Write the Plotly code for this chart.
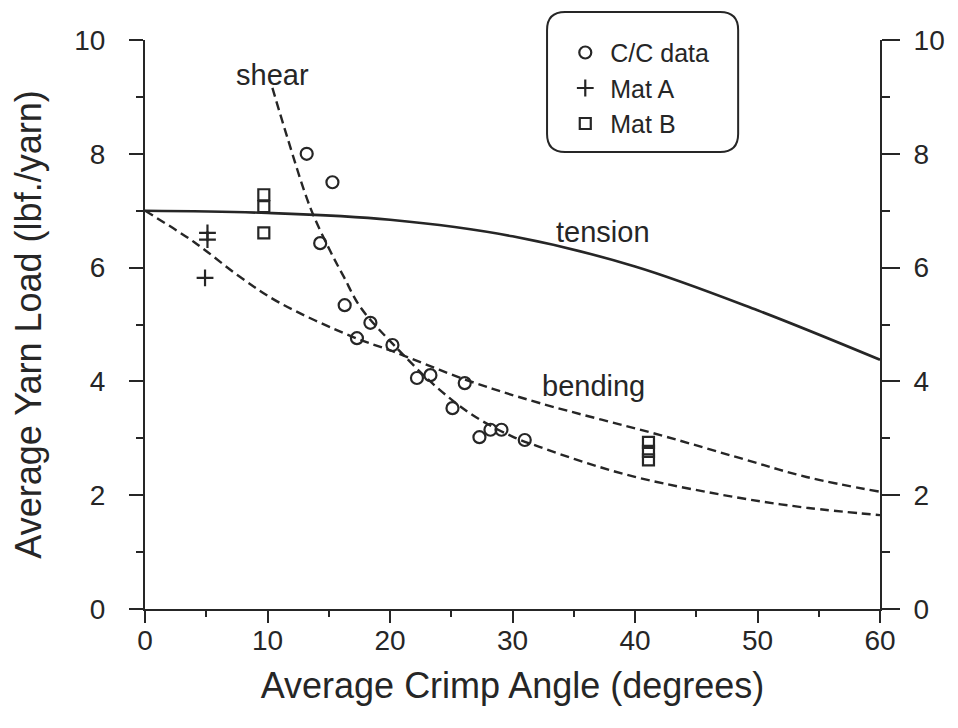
import plotly.graph_objects as go

# ---------------- data ----------------
cc_x = [13.2, 15.3, 14.3, 16.3, 18.4, 17.3, 20.2, 22.2, 23.3, 26.1, 25.1, 27.3, 28.2, 29.1, 31.0]
cc_y = [8.0, 7.5, 6.43, 5.34, 5.03, 4.76, 4.64, 4.06, 4.11, 3.97, 3.53, 3.02, 3.15, 3.15, 2.97]

mat_a_x = [5.1, 5.1, 4.9]
mat_a_y = [6.61, 6.49, 5.82]

mat_b_x = [9.7, 9.7, 9.7, 41.1, 41.1, 41.1]
mat_b_y = [7.28, 7.07, 6.61, 2.93, 2.77, 2.62]

tension_x = [0, 10, 20, 30, 40, 50, 60]
tension_y = [7.0, 6.96, 6.84, 6.55, 6.02, 5.25, 4.38]

bending_x = [0, 4, 7.8, 11.0, 17.0, 20.2, 26.3, 32.2, 42.0, 48.6, 54.0, 60]
bending_y = [7.0, 6.45, 5.83, 5.38, 4.78, 4.53, 4.02, 3.62, 3.06, 2.65, 2.32, 2.06]

shear_x = [10.4, 11.6, 13.5, 15.1, 16.2, 17.6, 20.4, 23.8, 26.8, 30.0, 32.2, 36.0, 40.4, 48.6, 54.0, 60]
shear_y = [9.16, 8.3, 7.05, 6.3, 5.85, 5.3, 4.62, 3.9, 3.4, 3.03, 2.85, 2.57, 2.30, 1.95, 1.78, 1.65]

x_ticks = [0, 10, 20, 30, 40, 50, 60]
y_ticks = [0, 2, 4, 6, 8, 10]

curve_labels = ["shear", "tension", "bending"]
label_x = [10.4, 37.4, 36.6]
label_y = [9.38, 6.62, 3.92]

# ---------------- styling ----------------
INK = "#262626"
FONT = "Liberation Sans, Arial, sans-serif"

fig = go.Figure()

fig.add_trace(go.Scatter(x=tension_x, y=tension_y, mode="lines", line=dict(color=INK, width=2.6, shape="spline"),
                         showlegend=False, hoverinfo="skip"))
fig.add_trace(go.Scatter(x=bending_x, y=bending_y, mode="lines",
                         line=dict(color=INK, width=2.4, dash="9px,5px", shape="spline"),
                         showlegend=False, hoverinfo="skip"))
fig.add_trace(go.Scatter(x=shear_x, y=shear_y, mode="lines",
                         line=dict(color=INK, width=2.4, dash="9px,5px", shape="spline"),
                         showlegend=False, hoverinfo="skip"))

fig.add_trace(go.Scatter(x=cc_x, y=cc_y, mode="markers", name="C/C data",
                         marker=dict(symbol="circle-open", size=12, color=INK, line=dict(width=2.2, color=INK))))
fig.add_trace(go.Scatter(x=mat_a_x, y=mat_a_y, mode="markers", name="Mat A",
                         marker=dict(symbol="cross-thin-open", size=12, color=INK, line=dict(width=2.2, color=INK))))
fig.add_trace(go.Scatter(x=mat_b_x, y=mat_b_y, mode="markers", name="Mat B",
                         marker=dict(symbol="square-open", size=11, color=INK, line=dict(width=2.2, color=INK))))
# anchor trace for the right-hand axis
fig.add_trace(go.Scatter(x=[None], y=[None], yaxis="y2", showlegend=False, hoverinfo="skip"))

axis_common = dict(showgrid=False, zeroline=False, showline=True, linecolor=INK, linewidth=2,
                   ticks="outside", tickcolor=INK, tickwidth=2, automargin=False,
                   tickfont=dict(family=FONT, size=28, color=INK))

fig.update_layout(
    template="none",
    width=950, height=720,
    margin=dict(l=137, r=78, t=32, b=119),
    paper_bgcolor="white", plot_bgcolor="white",
    font=dict(family=FONT, color=INK),
    xaxis=dict(range=[0, 60], tickvals=x_ticks, ticklen=12, ticklabelstandoff=-7,
               minor=dict(dtick=5, ticklen=6, tickwidth=2, tickcolor=INK, ticks="outside"),
               title=dict(text="Average Crimp Angle (degrees)", font=dict(family=FONT, size=36, color=INK), standoff=18),
               **axis_common),
    yaxis=dict(range=[0, 10], tickvals=y_ticks, ticklen=14, ticklabelstandoff=18,
               minor=dict(dtick=1, ticklen=7, tickwidth=2, tickcolor=INK, ticks="outside"),
               title=dict(text="Average Yarn Load (lbf./yarn)", font=dict(family=FONT, size=36, color=INK), standoff=22),
               **axis_common),
    yaxis2=dict(range=[0, 10], tickvals=y_ticks, overlaying="y", side="right", ticklen=18, ticklabelstandoff=8,
                minor=dict(dtick=1, ticklen=8, tickwidth=2, tickcolor=INK, ticks="outside"),
                **axis_common),
    legend=dict(x=0.565, y=1.018, xanchor="left", yanchor="top", bgcolor="rgba(0,0,0,0)",
                borderwidth=0, font=dict(family=FONT, size=25, color=INK), tracegroupgap=0, itemwidth=40),
)

# rounded legend frame
x0, x1, y0, y1 = 0.547, 0.807, 0.803, 1.049
rx, ry = 0.0245, 0.0316
path = (f"M {x0+rx},{y1} L {x1-rx},{y1} Q {x1},{y1} {x1},{y1-ry} L {x1},{y0+ry} "
        f"Q {x1},{y0} {x1-rx},{y0} L {x0+rx},{y0} Q {x0},{y0} {x0},{y0+ry} "
        f"L {x0},{y1-ry} Q {x0},{y1} {x0+rx},{y1} Z")
fig.add_shape(type="path", path=path, xref="paper", yref="paper", line=dict(color=INK, width=2))

for t, lx, ly in zip(curve_labels, label_x, label_y):
    fig.add_annotation(x=lx, y=ly, text=t, showarrow=False, xref="x", yref="y",
                       font=dict(family=FONT, size=29, color=INK))

fig.write_html("out.html")
